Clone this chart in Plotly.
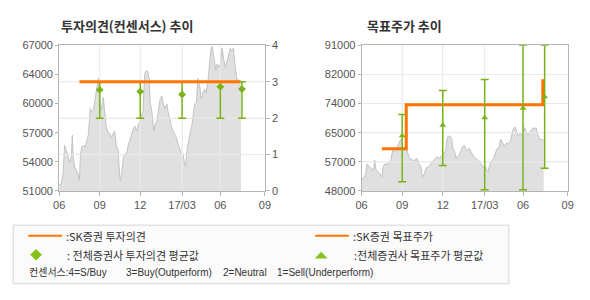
import plotly.graph_objects as go
import pandas as pd

# ---------------- data ----------------
start_date = "2016-06-01"
price_days = [0, 3, 5, 9, 12, 16, 20, 23, 27, 29, 31, 34, 38, 41, 45, 47, 50, 54, 58, 62,
              65, 69, 73, 76, 80, 83, 87, 91, 94, 98, 101, 105, 109, 113, 116, 120, 123, 127, 131, 134,
              136, 139, 143, 147, 150, 154, 157, 161, 165, 168, 172, 176, 179, 183, 186, 190, 194, 197, 200, 202,
              206, 210, 213, 217, 221, 224, 228, 231, 235, 239, 242, 246, 250, 253, 257, 260, 264, 268, 271, 275,
              278, 281, 283, 287, 290, 294, 297, 301, 305, 308, 312, 316, 319, 323, 326, 330, 334, 337, 340, 344,
              348, 351, 355, 358, 362, 366, 369, 373, 377, 380, 384, 387, 391, 395, 398, 402, 404]
price_vals = [51800, 51630, 51980, 53030, 56010, 55490, 54790, 54080, 54790, 57130, 54790, 53730, 53380, 53030, 52160, 54790, 55840, 56010, 55840, 56540,
              57240, 60040, 59690, 59870, 61440, 62150, 63370, 60740, 59870, 61270, 59690, 57940, 57410, 57240, 56890, 57410, 57590, 56010, 55490, 52860,
              52160, 53030, 54790, 55140, 55140, 56190, 56540, 57240, 57940, 58120, 57590, 58290, 58640, 59340, 59690, 63900, 64250, 64070, 63200, 60740,
              59690, 57590, 58290, 58640, 60390, 61090, 61440, 60570, 60040, 60570, 59690, 58640, 57940, 57590, 57240, 56890, 56190, 55660, 54960, 55140,
              54080, 53730, 55140, 56540, 57240, 57940, 59340, 60570, 60740, 63370, 62500, 61090, 61800, 62150, 61800, 62850, 64950, 66530, 66880, 65300,
              64250, 64950, 64600, 64950, 66700, 65300, 64600, 65300, 66000, 66700, 66350, 66700, 64600, 63200, 63200, 63020, 63200]

x_range = ["2016-06-01", "2017-09-01"]
x_tick_dates = ["2016-06-01", "2016-08-30", "2016-11-28", "2017-03-01", "2017-05-25", "2017-09-01"]
x_tick_text = ["06", "09", "12", "17/03", "06", "09"]

price_range_l = [51000, 67000]
price_tick_vals_l = [51000, 54200, 57400, 60600, 63800, 67000]
price_tick_text_l = ["51000", "54000", "57000", "60000", "64000", "67000"]
opinion_range = [0, 4]
opinion_ticks = [0, 1, 2, 3, 4]
price_range_r = [48000, 91000]
price_tick_vals_r = [48000, 56600, 65200, 73800, 82400, 91000]
price_tick_text_r = ["48000", "57000", "65000", "74000", "82000", "91000"]

sk_opinion_dates = ["2016-07-16", "2017-07-08"]
sk_opinion = [3, 3]

cons_dates = ["2016-08-30", "2016-11-28", "2017-03-01", "2017-05-25", "2017-07-12"]
cons_avg = [2.78, 2.73, 2.65, 2.86, 2.80]
cons_max = [3, 3, 3, 3, 3]
cons_min = [2, 2, 2, 2, 2]

sk_target_dates = ["2016-07-16", "2016-09-08", "2017-07-08", "2017-07-08"]
sk_target = [60500, 73500, 73500, 81000]

tgt_avg = [64300, 67400, 69600, 72400, 75800]
tgt_max = [70600, 77700, 80900, 91000, 91000]
tgt_min = [50700, 55500, 48400, 48400, 54700]

legend_texts = [":SK증권 투자의견", ":SK증권 목표주가", ": 전체증권사 투자의견 평균값", ":전체증권사 목표주가 평균값"]
consensus_texts = ["컨센서스:4=S/Buy", "3=Buy(Outperform)", "2=Neutral", "1=Sell(Underperform)"]
titles = ["투자의견(컨센서스) 추이", "목표주가 추이"]

# ---------------- styling ----------------
W, H = 590, 300
ORANGE = "#ff7500"
GREEN = "#7ab317"
LGREEN = "#84c11c"
AREA_FILL = "#e0e0e0"
AREA_LINE = "#c2c2c2"
GRID = "#ebebeb"
BORDER = "#b4b4b4"
TICKFONT = dict(family="Liberation Sans, Arial", size=11, color="#555555")
KFONT = "Noto Sans CJK KR, Noto Sans, sans-serif"
ROW3FONT = "Liberation Sans, Noto Sans CJK KR, sans-serif"

start = pd.Timestamp(start_date)
price_dates = [start + pd.Timedelta(days=d) for d in price_days]


def px(x):
    return x / W


def py(y):
    return 1 - y / H


def grid_trace(xaxis, yaxis, yvals, yrng):
    xs, ys = [], []
    for d in x_tick_dates[1:-1]:
        xs += [d, d, None]
        ys += [yrng[0], yrng[1], None]
    for v in yvals:
        xs += [x_range[0], x_range[1], None]
        ys += [v, v, None]
    return go.Scatter(x=xs, y=ys, mode="lines", line=dict(color=GRID, width=1),
                      xaxis=xaxis, yaxis=yaxis, hoverinfo="skip", showlegend=False)


fig = go.Figure()

# ----- left chart -----
fig.add_trace(go.Scatter(x=price_dates, y=price_vals, mode="lines", fill="tozeroy",
                         fillcolor=AREA_FILL, line=dict(color=AREA_LINE, width=1),
                         xaxis="x", yaxis="y", hoverinfo="skip", showlegend=False))
fig.add_trace(grid_trace("x", "y2", opinion_ticks[1:-1], opinion_range))
fig.add_trace(go.Scatter(x=cons_dates, y=cons_avg, mode="markers",
                         marker=dict(symbol="diamond", size=6, color=GREEN),
                         error_y=dict(type="data", symmetric=False,
                                      array=[mx - a for mx, a in zip(cons_max, cons_avg)],
                                      arrayminus=[a - mn for a, mn in zip(cons_avg, cons_min)],
                                      color=GREEN, thickness=1.5, width=4),
                         xaxis="x", yaxis="y2", showlegend=False))
fig.add_trace(go.Scatter(x=sk_opinion_dates, y=sk_opinion, mode="lines",
                         line=dict(color=ORANGE, width=3),
                         xaxis="x", yaxis="y2", showlegend=False))

# ----- right chart -----
fig.add_trace(go.Scatter(x=price_dates, y=price_vals, mode="lines", fill="tozeroy",
                         fillcolor=AREA_FILL, line=dict(color=AREA_LINE, width=1),
                         xaxis="x2", yaxis="y3", hoverinfo="skip", showlegend=False))
fig.add_trace(grid_trace("x2", "y3", price_tick_vals_r[1:-1], price_range_r))
fig.add_trace(go.Scatter(x=sk_target_dates, y=sk_target, mode="lines", line_shape="hv",
                         line=dict(color=ORANGE, width=3),
                         xaxis="x2", yaxis="y3", showlegend=False))
fig.add_trace(go.Scatter(x=cons_dates, y=tgt_avg, mode="markers",
                         marker=dict(symbol="triangle-up", size=6, color=GREEN),
                         error_y=dict(type="data", symmetric=False,
                                      array=[mx - a for mx, a in zip(tgt_max, tgt_avg)],
                                      arrayminus=[a - mn for a, mn in zip(tgt_avg, tgt_min)],
                                      color=GREEN, thickness=1.5, width=4),
                         xaxis="x2", yaxis="y3", showlegend=False))

ydom = [py(192.7), py(41)]
xcommon = dict(type="date", range=x_range, tickvals=x_tick_dates,
               ticktext=x_tick_text, showgrid=True, gridcolor=GRID, gridwidth=1,
               showline=True, linecolor=BORDER, linewidth=1, mirror=True,
               ticks="outside", ticklen=4, tickcolor=BORDER, tickfont=TICKFONT,
               zeroline=False, fixedrange=True)

fig.update_layout(
    width=W, height=H, margin=dict(l=0, r=0, t=0, b=0),
    paper_bgcolor="white", plot_bgcolor="white", showlegend=False,
    xaxis=dict(domain=[px(54.3), px(264.3)], anchor="y", **xcommon),
    xaxis2=dict(domain=[px(363), px(573.3)], anchor="y3", **xcommon),
    yaxis=dict(domain=ydom, anchor="x", range=price_range_l, tickvals=price_tick_vals_l,
               ticktext=price_tick_text_l, showgrid=False, zeroline=False,
               showline=True, linecolor=BORDER, mirror=True, ticks="outside",
               ticklen=3, tickcolor=BORDER, tickfont=TICKFONT),
    yaxis2=dict(overlaying="y", side="right", anchor="x", range=opinion_range, tickvals=opinion_ticks,
                showgrid=True, gridcolor=GRID, zeroline=False, showline=False,
                ticks="outside", ticklen=4, tickcolor=BORDER, tickfont=TICKFONT),
    yaxis3=dict(domain=ydom, anchor="x2", range=price_range_r, tickvals=price_tick_vals_r,
                ticktext=price_tick_text_r, showgrid=True, gridcolor=GRID, zeroline=False,
                showline=True, linecolor=BORDER, mirror=True, ticks="outside",
                ticklen=3, tickcolor=BORDER, tickfont=TICKFONT),
)

annotations = []
for t, xx in zip(titles, [54, 366.5]):
    annotations.append(dict(text="<b>" + t + "</b>", x=px(xx), y=py(20.7), xref="paper", yref="paper",
                            xanchor="left", yanchor="middle", showarrow=False,
                            font=dict(family=KFONT, size=13, color="#333333")))

shapes = [dict(type="rect", xref="paper", yref="paper", x0=px(7.3), x1=px(513.3),
               y0=py(289.3), y1=py(228.3), line=dict(color="#d6d6d6", width=1),
               fillcolor="#fbfbfb", layer="below")]
for x0, x1 in [(22.7, 57.3), (315.7, 350)]:
    shapes.append(dict(type="line", xref="paper", yref="paper", x0=px(x0), x1=px(x1),
                       y0=py(239.3), y1=py(239.3), line=dict(color=ORANGE, width=2)))
cx, cy, r = 30.7, 259, 6
shapes.append(dict(type="path", xref="paper", yref="paper",
                   path=f"M {px(cx-r)} {py(cy)} L {px(cx)} {py(cy-r)} L {px(cx+r)} {py(cy)} L {px(cx)} {py(cy+r)} Z",
                   fillcolor=LGREEN, line=dict(width=0)))
tx, ty = 321.7, 259
shapes.append(dict(type="path", xref="paper", yref="paper",
                   path=f"M {px(tx-6.5)} {py(ty+4)} L {px(tx)} {py(ty-3)} L {px(tx+6.5)} {py(ty+4)} Z",
                   fillcolor=LGREEN, line=dict(width=0)))

leg_pos = [(59, 239.3), (352, 239.3), (60, 259), (353, 259)]
for t, (xx, yy) in zip(legend_texts, leg_pos):
    annotations.append(dict(text=t, x=px(xx), y=py(yy), xref="paper", yref="paper",
                            xanchor="left", yanchor="middle", showarrow=False,
                            font=dict(family=KFONT, size=11, color="#333333")))
for t, xx in zip(consensus_texts, [21.5, 120.5, 219, 275]):
    annotations.append(dict(text=t, x=px(xx), y=py(277.3), xref="paper", yref="paper",
                            xanchor="left", yanchor="middle", showarrow=False,
                            font=dict(family=ROW3FONT, size=10, color="#333333")))

fig.update_layout(annotations=annotations, shapes=shapes)
fig.write_html("out.html")
